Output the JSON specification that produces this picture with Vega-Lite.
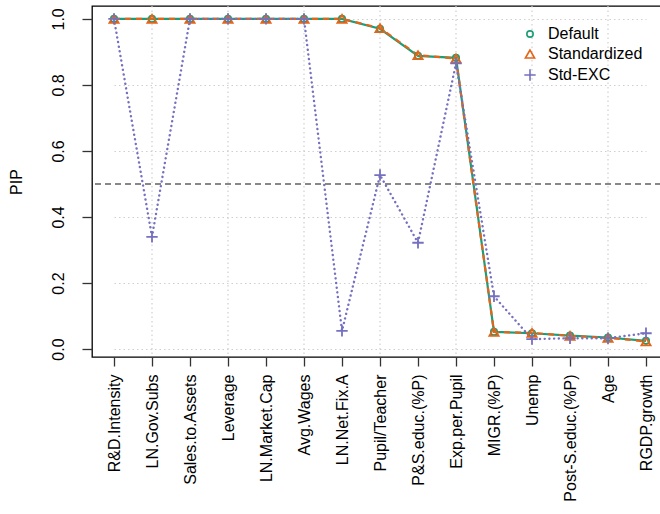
{
  "$schema": "https://vega.github.io/schema/vega-lite/v6.json",
  "width": 569,
  "height": 351,
  "autosize": {"type": "none"},
  "padding": {"left": 92, "top": 6, "right": 0, "bottom": 157},
  "background": "white",
  "config": {
    "font": "Liberation Sans",
    "view": {"stroke": "black", "strokeWidth": 1.3},
    "axis": {"labelFont": "Liberation Sans", "titleFont": "Liberation Sans", "labelColor": "black", "titleColor": "black"}
  },
  "data": {"values": [
    {"var": "R&D.Intensity", "series": "Default", "pip": 1},
    {"var": "LN.Gov.Subs", "series": "Default", "pip": 1},
    {"var": "Sales.to.Assets", "series": "Default", "pip": 1},
    {"var": "Leverage", "series": "Default", "pip": 1},
    {"var": "LN.Market.Cap", "series": "Default", "pip": 1},
    {"var": "Avg.Wages", "series": "Default", "pip": 1},
    {"var": "LN.Net.Fix.A", "series": "Default", "pip": 1},
    {"var": "Pupil/Teacher", "series": "Default", "pip": 0.97},
    {"var": "P&S.educ.(%P)", "series": "Default", "pip": 0.888},
    {"var": "Exp.per.Pupil", "series": "Default", "pip": 0.882},
    {"var": "MIGR.(%P)", "series": "Default", "pip": 0.052},
    {"var": "Unemp", "series": "Default", "pip": 0.048},
    {"var": "Post-S.educ.(%P)", "series": "Default", "pip": 0.041},
    {"var": "Age", "series": "Default", "pip": 0.035},
    {"var": "RGDP.growth", "series": "Default", "pip": 0.025},
    {"var": "R&D.Intensity", "series": "Standardized", "pip": 1},
    {"var": "LN.Gov.Subs", "series": "Standardized", "pip": 1},
    {"var": "Sales.to.Assets", "series": "Standardized", "pip": 1},
    {"var": "Leverage", "series": "Standardized", "pip": 1},
    {"var": "LN.Market.Cap", "series": "Standardized", "pip": 1},
    {"var": "Avg.Wages", "series": "Standardized", "pip": 1},
    {"var": "LN.Net.Fix.A", "series": "Standardized", "pip": 1},
    {"var": "Pupil/Teacher", "series": "Standardized", "pip": 0.972},
    {"var": "P&S.educ.(%P)", "series": "Standardized", "pip": 0.89},
    {"var": "Exp.per.Pupil", "series": "Standardized", "pip": 0.88},
    {"var": "MIGR.(%P)", "series": "Standardized", "pip": 0.052},
    {"var": "Unemp", "series": "Standardized", "pip": 0.049},
    {"var": "Post-S.educ.(%P)", "series": "Standardized", "pip": 0.04},
    {"var": "Age", "series": "Standardized", "pip": 0.034},
    {"var": "RGDP.growth", "series": "Standardized", "pip": 0.023},
    {"var": "R&D.Intensity", "series": "Std-EXC", "pip": 1},
    {"var": "LN.Gov.Subs", "series": "Std-EXC", "pip": 0.34},
    {"var": "Sales.to.Assets", "series": "Std-EXC", "pip": 1},
    {"var": "Leverage", "series": "Std-EXC", "pip": 1},
    {"var": "LN.Market.Cap", "series": "Std-EXC", "pip": 1},
    {"var": "Avg.Wages", "series": "Std-EXC", "pip": 1},
    {"var": "LN.Net.Fix.A", "series": "Std-EXC", "pip": 0.055},
    {"var": "Pupil/Teacher", "series": "Std-EXC", "pip": 0.527},
    {"var": "P&S.educ.(%P)", "series": "Std-EXC", "pip": 0.322},
    {"var": "Exp.per.Pupil", "series": "Std-EXC", "pip": 0.865},
    {"var": "MIGR.(%P)", "series": "Std-EXC", "pip": 0.16},
    {"var": "Unemp", "series": "Std-EXC", "pip": 0.03},
    {"var": "Post-S.educ.(%P)", "series": "Std-EXC", "pip": 0.033},
    {"var": "Age", "series": "Std-EXC", "pip": 0.033},
    {"var": "RGDP.growth", "series": "Std-EXC", "pip": 0.048}
  ]},
  "encoding": {
    "x": {
      "field": "var", "type": "nominal", "sort": null,
      "scale": {"type": "point", "padding": 0, "range": [22, 554], "domain": ["R&D.Intensity", "LN.Gov.Subs", "Sales.to.Assets", "Leverage", "LN.Market.Cap", "Avg.Wages", "LN.Net.Fix.A", "Pupil/Teacher", "P&S.educ.(%P)", "Exp.per.Pupil", "MIGR.(%P)", "Unemp", "Post-S.educ.(%P)", "Age", "RGDP.growth"]},
      "axis": {
        "title": null, "labelAngle": -90, "labelAlign": "right", "labelBaseline": "middle",
        "labelFontSize": 16, "labelPadding": 8, "tickSize": 9, "tickColor": "#333", "tickWidth": 1.3,
        "domain": false, "grid": false, "labelOverlap": false, "labelLimit": 200
      }
    },
    "y": {
      "field": "pip", "type": "quantitative",
      "scale": {"domain": [-0.024, 1.039], "nice": false, "zero": false},
      "axis": {
        "title": "PIP", "titleFontSize": 16, "titleFontWeight": "normal", "titlePadding": 26,
        "values": [0, 0.2, 0.4, 0.6, 0.8, 1.0], "format": ".1f",
        "labelAngle": -90, "labelAlign": "center", "labelBaseline": "bottom",
        "labelFontSize": 16, "labelPadding": 16, "tickSize": 10, "tickColor": "#333", "tickWidth": 1.3,
        "domain": false, "grid": true, "gridColor": "#cfcfcf", "gridDash": [1.5, 3], "gridWidth": 1.2
      }
    }
  },
  "layer": [
    {
      "transform": [{"filter": {"field": "var", "oneOf": ["LN.Gov.Subs", "Leverage", "Avg.Wages", "Pupil/Teacher", "Exp.per.Pupil", "Unemp", "Age"]}}, {"filter": "datum.series == 'Default'"}],
      "mark": {"type": "rule", "color": "#cfcfcf", "strokeDash": [1.5, 3], "strokeWidth": 1.2},
      "encoding": {"y": null}
    },
    {
      "mark": {"type": "rule", "color": "#888888", "strokeDash": [6, 4], "strokeWidth": 1.5},
      "encoding": {"x": null, "y": {"datum": 0.5}}
    },
    {
      "transform": [{"filter": "datum.series == 'Default'"}],
      "mark": {"type": "line", "color": "#1b9e77", "strokeWidth": 2.2}
    },
    {
      "transform": [{"filter": "datum.series == 'Standardized'"}],
      "mark": {"type": "line", "color": "#e4641a", "strokeWidth": 2.2, "strokeDash": [6, 5]}
    },
    {
      "transform": [{"filter": "datum.series == 'Std-EXC'"}],
      "mark": {"type": "line", "color": "#7570c0", "strokeWidth": 2.4, "strokeDash": [0.1, 4.6], "strokeCap": "round"}
    },
    {
      "mark": {"type": "point", "filled": false, "strokeWidth": 1.8, "opacity": 1},
      "encoding": {
        "color": {
          "field": "series", "type": "nominal",
          "scale": {"domain": ["Default", "Standardized", "Std-EXC"], "range": ["#1b9e77", "#e4641a", "#7570c0"]},
          "legend": {
            "title": null, "orient": "none", "legendX": 430, "legendY": 20,
            "labelFontSize": 16, "labelFont": "Liberation Sans", "labelColor": "black",
            "symbolStrokeWidth": 1.6, "rowPadding": 4, "labelOffset": 10, "padding": 0,
            "symbolSize": 120
          }
        },
        "shape": {
          "field": "series", "type": "nominal",
          "scale": {"domain": ["Default", "Standardized", "Std-EXC"], "range": ["circle", "triangle-up", "M-1,0H1M0,-1V1"]},
          "legend": {"title": null}
        },
        "size": {
          "field": "series", "type": "nominal",
          "scale": {"domain": ["Default", "Standardized", "Std-EXC"], "range": [40, 130, 200]},
          "legend": null
        }
      }
    }
  ]
}
